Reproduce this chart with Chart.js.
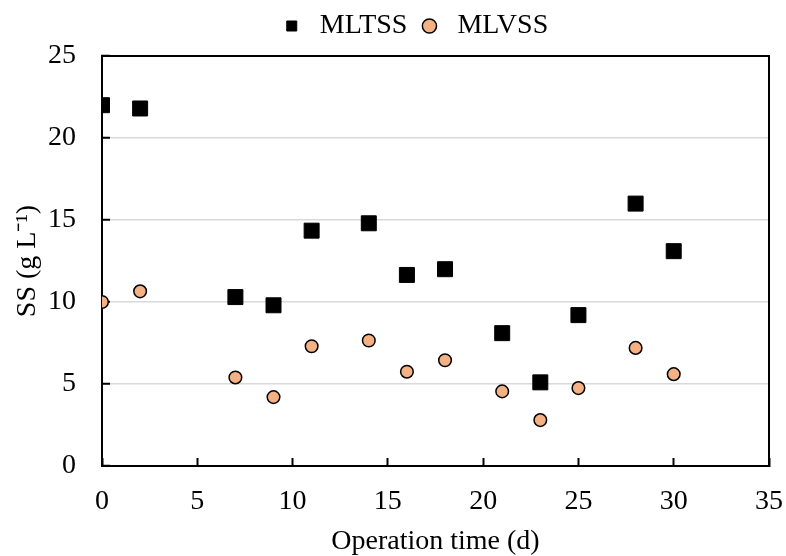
<!DOCTYPE html>
<html>
<head>
<meta charset="utf-8">
<script src="https://cdn.jsdelivr.net/npm/chart.js@4.4.1/dist/chart.umd.min.js"></script>
<style>
  html, body { margin: 0; padding: 0; background: #fff; }
  #wrap { width: 786px; height: 556px; }
</style>
</head>
<body>
<div id="wrap"><canvas id="ssChart" width="786" height="556"></canvas></div>
<script>
// operation time (d)
const days = [0, 2, 7, 9, 11, 14, 16, 18, 21, 23, 25, 28, 30];
// suspended solids (g/L)
const mltss = [22.0, 21.8, 10.3, 9.8, 14.35, 14.8, 11.65, 12.0, 8.1, 5.1, 9.2, 16.0, 13.1];
const mlvss = [10.0, 10.65, 5.4, 4.2, 7.3, 7.65, 5.75, 6.45, 4.55, 2.8, 4.75, 7.2, 5.6];
const xTicks = [0, 5, 10, 15, 20, 25, 30, 35];
const yTicks = [0, 5, 10, 15, 20, 25];

const serif = "'Liberation Serif', 'Times New Roman', serif";
const fontSize = 28;

function toPoints(xs, ys) {
  return xs.map((x, i) => ({ x: x, y: ys[i] }));
}

// nudge legend a little to the right like the original
const legendShift = {
  id: "legendShift",
  afterLayout(chart) {
    chart.legend.left += 20;
    chart.legend.right += 20;
  }
};

new Chart(document.getElementById("ssChart"), {
  type: "scatter",
  data: {
    datasets: [
      {
        label: "MLTSS",
        data: toPoints(days, mltss),
        pointStyle: "rect",
        pointRadius: 10.6,
        pointHoverRadius: 10.6,
        backgroundColor: "#000000",
        borderColor: "#000000",
        borderWidth: 1
      },
      {
        label: "MLVSS",
        data: toPoints(days, mlvss),
        pointStyle: "circle",
        pointRadius: 6.3,
        pointHoverRadius: 6.3,
        backgroundColor: "#F4B183",
        borderColor: "#000000",
        borderWidth: 1.5
      }
    ]
  },
  options: {
    responsive: false,
    animation: false,
    layout: { padding: { top: 4, left: 0, right: 0, bottom: 0 } },
    plugins: {
      tooltip: { enabled: false },
      legend: {
        position: "top",
        labels: {
          usePointStyle: true,
          boxHeight: 10,
          padding: 8,
          color: "#000",
          font: { family: serif, size: fontSize }
        }
      }
    },
    scales: {
      x: {
        type: "linear",
        position: "bottom",
        min: 0,
        max: 35,
        afterBuildTicks: s => { s.ticks = xTicks.map(v => ({ value: v })); },
        afterFit: s => { s.height = 90; s.paddingLeft = 0; s.paddingRight = 0; },
        grid: {
          drawOnChartArea: false,
          drawTicks: true,
          tickLength: -8,
          tickColor: "#000",
          tickWidth: 2
        },
        border: { display: true, color: "#000", width: 2 },
        ticks: {
          color: "#000",
          padding: 27,
          maxRotation: 0,
          font: { family: serif, size: fontSize }
        },
        title: {
          display: true,
          text: "Operation time (d)",
          color: "#000",
          padding: { top: 0, bottom: -2 },
          font: { family: serif, size: fontSize }
        }
      },
      y: {
        type: "linear",
        position: "left",
        min: 0,
        max: 25,
        afterBuildTicks: s => { s.ticks = yTicks.map(v => ({ value: v })); },
        afterFit: s => { s.width = 102; s.paddingTop = 0; s.paddingBottom = 0; },
        grid: {
          color: "#d9d9d9",
          lineWidth: 1.5,
          drawTicks: true,
          tickLength: -8,
          tickColor: "#000",
          tickWidth: 2
        },
        border: { display: true, color: "#000", width: 2 },
        ticks: {
          color: "#000",
          padding: 34,
          font: { family: serif, size: fontSize }
        },
        title: {
          display: true,
          text: "SS (g L\u207B\u00B9)",
          color: "#000",
          padding: { top: 11, bottom: 0 },
          font: { family: serif, size: fontSize }
        }
      },
      // frame: top and right edges of the plot box
      x2: {
        type: "linear",
        position: "top",
        display: true,
        min: 0,
        max: 35,
        afterFit: s => { s.height = 6; },
        grid: { drawOnChartArea: false, drawTicks: false },
        border: { display: true, color: "#000", width: 2 },
        ticks: { display: false }
      },
      y2: {
        type: "linear",
        position: "right",
        display: true,
        min: 0,
        max: 25,
        afterFit: s => { s.width = 17; },
        grid: { drawOnChartArea: false, drawTicks: false },
        border: { display: true, color: "#000", width: 2 },
        ticks: { display: false }
      }
    }
  },
  plugins: [legendShift]
});
</script>
</body>
</html>
